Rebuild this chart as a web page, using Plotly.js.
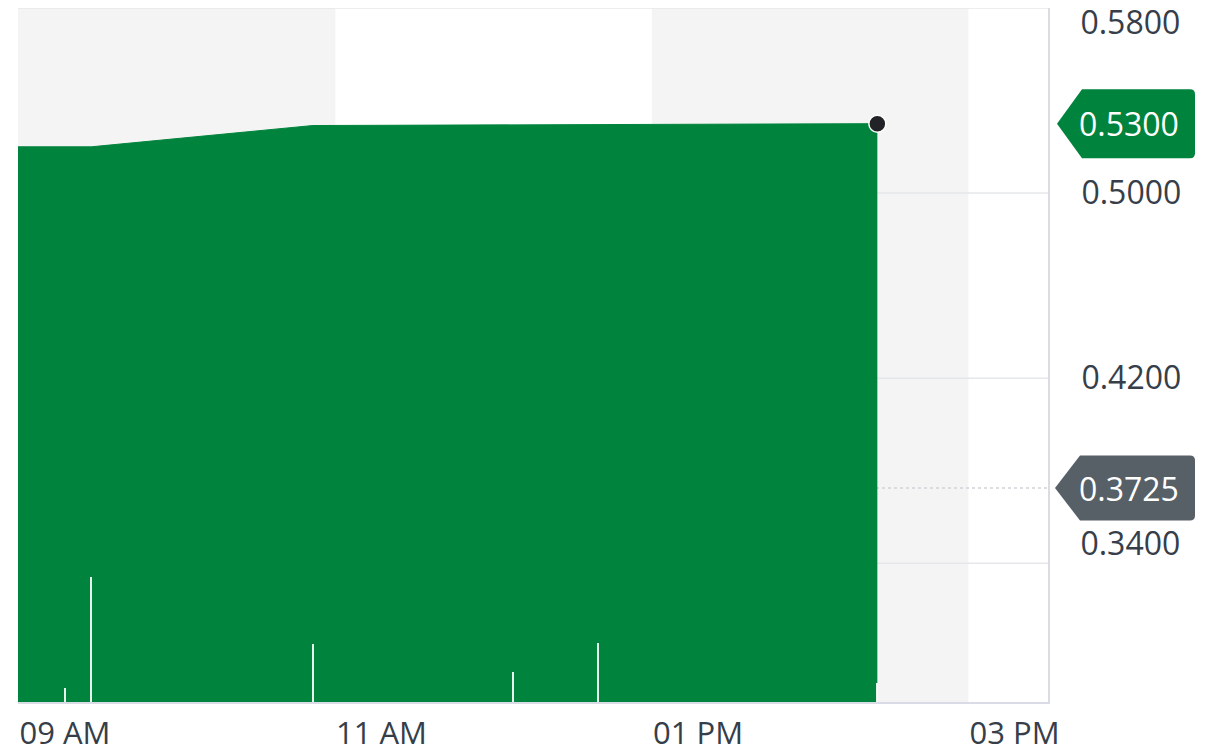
<!DOCTYPE html>
<html>
<head>
<meta charset="utf-8">
<script src="https://cdn.plot.ly/plotly-3.0.1.min.js"></script>
<style>
  html, body { margin: 0; padding: 0; background: #ffffff; }
  #chart { width: 1209px; height: 754px; }
</style>
</head>
<body>
<div id="chart"></div>
<script>
// ---- data ----
const day = '2024-01-02 ';
const priceTimes = ['08:42', '09:00', '09:10', '10:34', '11:50', '12:22', '14:08'];
const priceValues = [0.5200, 0.5200, 0.5200, 0.5292, 0.5295, 0.5297, 0.5300];
const volumeTimes = ['09:00', '09:10', '10:34', '11:50', '12:22', '14:08'];
const volumeValues = [1120, 10000, 4640, 2400, 4720, 1520];
const xTickTimes = ['09:00', '11:00', '13:00', '15:00'];
const xTickLabels = ['09 AM', '11 AM', '01 PM', '03 PM'];
const yTickValues = [0.58, 0.50, 0.42, 0.34];
const lastPrice = 0.5300;
const previousClose = 0.3725;

const GREEN = '#00843d';
const GREY = '#575f67';
const FONT = 'Open Sans, Roboto, sans-serif';
const TXT = '#363e4a';

const px = priceTimes.map(t => day + t);
const vx = volumeTimes.map(t => day + t);

const traces = [
  {
    type: 'scatter', mode: 'lines', x: px, y: priceValues,
    fill: 'tozeroy', fillcolor: GREEN,
    line: { color: GREEN, width: 1 },
    hoverinfo: 'skip', xaxis: 'x', yaxis: 'y'
  },
  {
    type: 'scatter', mode: 'markers',
    x: [px[px.length - 1]], y: [priceValues[priceValues.length - 1]],
    marker: { color: '#222326', size: 17, line: { color: '#ffffff', width: 1.5 } },
    hoverinfo: 'skip', xaxis: 'x', yaxis: 'y'
  },
  {
    type: 'bar', x: vx, y: volumeValues, width: 45000,
    marker: { color: 'rgba(255,255,255,0.9)', line: { width: 0 } },
    hoverinfo: 'skip', xaxis: 'x', yaxis: 'y2'
  },
  // carriers for the edge tick labels
  { type: 'scatter', mode: 'markers', x: [px[0]], y: [yTickValues[0]], marker: { opacity: 0 }, hoverinfo: 'skip', xaxis: 'x', yaxis: 'y3' },
  { type: 'scatter', mode: 'markers', x: [px[0]], y: [yTickValues[3]], marker: { opacity: 0 }, hoverinfo: 'skip', xaxis: 'x', yaxis: 'y4' }
];

const yRange = [0.28, 0.58];
const xRange = [day + '08:42:11', day + '15:12:42'];

const yCommon = {
  range: yRange, side: 'right', fixedrange: true,
  ticks: 'outside', ticklen: 0, ticklabelstandoff: 25,
  tickfont: { family: FONT, size: 32, color: TXT },
  tickformat: '.4f', zeroline: false
};

function callout(yVal, color, half, tip, join) {
  return {
    type: 'path', layer: 'above',
    xref: 'paper', xsizemode: 'pixel', xanchor: 1,
    yref: 'y', ysizemode: 'pixel', yanchor: yVal,
    path: `M ${tip} 0 L ${join} ${half} L 142 ${half} Q 147 ${half} 147 ${half - 5} L 147 ${-half + 5} Q 147 ${-half} 142 ${-half} L ${join} ${-half} Z`,
    fillcolor: color, line: { width: 0 }
  };
}

const layout = {
  width: 1209, height: 754,
  margin: { l: 18, r: 161, t: 8, b: 52 },
  paper_bgcolor: '#ffffff', plot_bgcolor: '#ffffff',
  showlegend: false, bargap: 0,
  xaxis: {
    type: 'date', range: xRange, fixedrange: true,
    tickvals: xTickTimes.map(t => day + t), ticktext: xTickLabels,
    ticks: 'outside', ticklen: 3, tickcolor: 'rgba(0,0,0,0)',
    tickfont: { family: FONT, size: 31, color: TXT },
    showgrid: false, showline: true, linecolor: '#d9dce4', linewidth: 2,
    zeroline: false
  },
  yaxis: Object.assign({}, yCommon, {
    tickvals: yTickValues.slice(1, 3),
    showgrid: false, showline: true, linecolor: '#d9dce4', linewidth: 2
  }),
  yaxis2: { range: [0, 55520], overlaying: 'y', side: 'left', visible: false, fixedrange: true },
  yaxis3: Object.assign({}, yCommon, {
    overlaying: 'y', tickvals: [yTickValues[0]], ticklabelposition: 'outside bottom',
    ticklabelshift: -8,
    showgrid: false, showline: false
  }),
  yaxis4: Object.assign({}, yCommon, {
    overlaying: 'y', tickvals: [yTickValues[3]], ticklabelposition: 'outside top',
    ticklabelshift: 3,
    showgrid: false, showline: false
  }),
  shapes: [
    // alternating background bands
    { type: 'rect', layer: 'below', xref: 'x', yref: 'paper', x0: day + '08:42:11', x1: day + '10:42:30', y0: 0, y1: 1, fillcolor: '#f4f4f4', line: { width: 0 } },
    { type: 'rect', layer: 'below', xref: 'x', yref: 'paper', x0: day + '12:42:30', x1: day + '14:42:30', y0: 0, y1: 1, fillcolor: '#f4f4f4', line: { width: 0 } },
    // horizontal gridlines
    ...yTickValues.map(v => ({
      type: 'line', layer: 'below', xref: 'paper', yref: 'y', x0: 0, x1: 1, y0: v, y1: v,
      line: { color: '#e6e7ea', width: 1.5 }
    })),
    // previous close dotted line
    { type: 'line', layer: 'below', xref: 'paper', yref: 'y', x0: 0, x1: 1, y0: previousClose, y1: previousClose, line: { color: '#d0d2d6', width: 1.5, dash: 'dot' } },
    callout(lastPrice, GREEN, 34.5, 9, 34),
    callout(previousClose, GREY, 32.5, 7, 32)
  ],
  annotations: [
    { xref: 'paper', yref: 'y', x: 1.0786, y: lastPrice, text: lastPrice.toFixed(4), showarrow: false,
      xanchor: 'center', yanchor: 'middle', font: { family: FONT, size: 32, color: '#ffffff' } },
    { xref: 'paper', yref: 'y', x: 1.0786, y: previousClose, text: previousClose.toFixed(4), showarrow: false,
      xanchor: 'center', yanchor: 'middle', font: { family: FONT, size: 32, color: '#ffffff' } }
  ]
};

Plotly.newPlot('chart', traces, layout, { displayModeBar: false, staticPlot: true });
</script>
</body>
</html>
